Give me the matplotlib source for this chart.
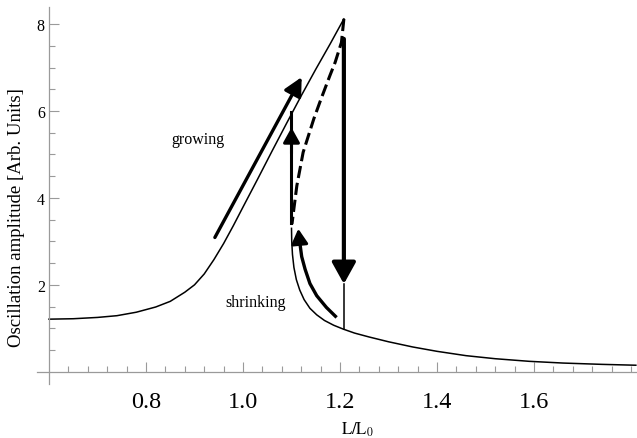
import numpy as np
import matplotlib
matplotlib.use("Agg")
import matplotlib.pyplot as plt

plt.rcParams['font.family'] = ['Liberation Serif', 'DejaVu Serif']
plt.rcParams['mathtext.fontset'] = 'stix'

# stable branch, left side up to the peak
up_x = [0.60, 0.65, 0.70, 0.74, 0.78, 0.82, 0.85, 0.88, 0.90, 0.92,
        0.94, 0.96, 0.98, 1.00, 1.03, 1.06, 1.09, 1.12, 1.15, 1.18, 1.208]
up_y = [1.21, 1.22, 1.25, 1.29, 1.37, 1.49, 1.62, 1.83, 2.00, 2.25,
        2.58, 2.95, 3.36, 3.79, 4.43, 5.08, 5.72, 6.35, 6.96, 7.55, 8.12]

# unstable branch (dashed)
mid_x = [1.208, 1.203, 1.19, 1.179, 1.16, 1.146, 1.124, 1.111, 1.104, 1.101]
mid_y = [8.12, 7.58, 7.12, 6.81, 6.25, 5.82, 5.05, 4.28, 3.67, 3.40]

# stable branch, lower side
low_x = [1.100, 1.1005, 1.102, 1.105, 1.110, 1.117, 1.126, 1.138, 1.152,
         1.168, 1.187, 1.207, 1.23, 1.26, 1.30, 1.35, 1.40, 1.46, 1.52,
         1.59, 1.66, 1.74, 1.81]
low_y = [3.30, 3.00, 2.70, 2.40, 2.12, 1.88, 1.66, 1.46, 1.31,
         1.18, 1.07, 0.98, 0.89, 0.80, 0.69, 0.57, 0.47, 0.37, 0.30,
         0.24, 0.20, 0.17, 0.15]

# arrows
grow_start = (0.942, 3.09)
grow_end = (1.121, 6.78)
jump_up_x = 1.1
jump_up_y = [3.43, 5.98]
jump_up_tip = 5.62
jump_down_x = 1.208
jump_down_y = [7.66, 2.02]
jump_down_foot = 0.98
shrink_x = [1.193, 1.172, 1.152, 1.138, 1.128, 1.121, 1.118, 1.116]
shrink_y = [1.25, 1.48, 1.75, 2.03, 2.36, 2.65, 2.90, 3.05]
shrink_tip = (1.114, 3.29)

gray = '#9a9a9a'

fig = plt.figure(figsize=(6.37, 4.39), dpi=100)
ax = fig.add_axes([0.0579, 0.1232, 0.9418, 0.8592])

ax.plot(up_x, up_y, color='black', lw=1.1)
ax.plot(low_x, low_y, color='black', lw=1.1)
ax.plot(mid_x, mid_y, color='black', lw=2.2, dashes=(4, 1.6))

# growing arrow
ax.annotate('', xy=grow_end, xytext=grow_start,
            arrowprops=dict(arrowstyle='-|>,head_length=0.55,head_width=0.28',
                            lw=2.4, color='black', mutation_scale=20,
                            shrinkA=0, shrinkB=0))

# jump up
ax.plot([jump_up_x, jump_up_x], jump_up_y, color='black', lw=2.2)
ax.annotate('', xy=(jump_up_x, jump_up_tip), xytext=(jump_up_x, jump_up_tip - 0.6),
            arrowprops=dict(arrowstyle='-|>,head_length=0.45,head_width=0.25',
                            lw=2.2, color='black', mutation_scale=20,
                            shrinkA=0, shrinkB=0))

# jump down
ax.annotate('', xy=(jump_down_x, jump_down_y[1]), xytext=(jump_down_x, jump_down_y[0]),
            arrowprops=dict(arrowstyle='-|>,head_length=0.65,head_width=0.36',
                            lw=3.0, color='black', mutation_scale=20,
                            shrinkA=0, shrinkB=0))
ax.plot([jump_down_x, jump_down_x], [jump_down_y[1], jump_down_foot], color='black', lw=1.1)

# shrinking arrow
ax.plot(shrink_x, shrink_y, color='black', lw=2.4, solid_capstyle='butt')
ax.annotate('', xy=shrink_tip, xytext=(shrink_x[-1], shrink_y[-1]),
            arrowprops=dict(arrowstyle='-|>,head_length=0.45,head_width=0.25',
                            lw=2.2, color='black', mutation_scale=20,
                            shrinkA=0, shrinkB=0))

ax.text(0.907, 5.36, 'growing', fontsize=11.5, ha='center', va='center')
ax.text(1.027, 1.60, 'shrinking', fontsize=11.5, ha='center', va='center')

ax.set_xlim(0.575, 1.812)
ax.set_ylim(-0.28, 8.4)

for s in ['top', 'right']:
    ax.spines[s].set_visible(False)
ax.spines['left'].set_position(('data', 0.6))
ax.spines['bottom'].set_position(('data', 0))
for s in ['left', 'bottom']:
    ax.spines[s].set_color(gray)
    ax.spines[s].set_linewidth(0.9)

ax.set_xticks([0.8, 1.0, 1.2, 1.4, 1.6])
ax.set_xticklabels(['0.8', '1.0', '1.2', '1.4', '1.6'])
ax.set_xticks(np.arange(0.64, 1.81, 0.04), minor=True)
ax.set_yticks([2, 4, 6, 8])
ax.set_yticks(np.arange(0.5, 8.3, 0.5), minor=True)

ax.tick_params(axis='both', which='both', direction='in', color=gray, width=0.8)
ax.tick_params(axis='both', which='major', length=7)
ax.tick_params(axis='both', which='minor', length=4)
ax.tick_params(axis='x', which='major', labelsize=17.5, pad=14)
ax.tick_params(axis='y', which='major', labelsize=11.5, pad=3)

fig.text(17 / 637, 1 - 218 / 439, 'Oscillation amplitude [Arb. Units]',
         rotation=90, ha='center', va='center', fontsize=13.5)
fig.text(357 / 637, 1 - 430 / 439, r'$\mathrm{L/L_0}$',
         ha='center', va='center', fontsize=12)

fig.savefig('out.png', dpi=100)
